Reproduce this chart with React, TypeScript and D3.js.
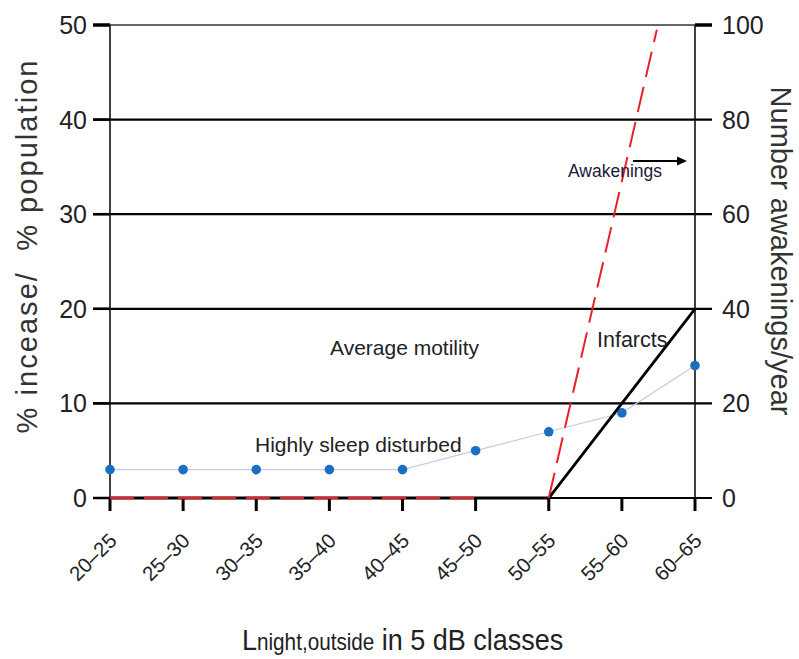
import React from "react";
import { scalePoint, scaleLinear, line } from "d3";

// L_night,outside classes (dB)
const classes = ["20–25", "25–30", "30–35", "35–40", "40–45", "45–50", "50–55", "55–60", "60–65"];
// left axis, % of population
const sleepDisturbed = [3, 3, 3, 3, 3, 5, 7, 9, 14];
const infarcts = [0, 0, 0, 0, 0, 0, 0, 10, 20];
// right axis, awakenings per year (goes past the top, clipped)
const awakenings = [0, 0, 0, 0, 0, 0, 0, 67, 134];
const leftTicks = [0, 10, 20, 30, 40, 50];
const rightTicks = [0, 20, 40, 60, 80, 100];

const sans = "'Liberation Sans', Arial, sans-serif";
const ink = "#222";

const App = () => {
  const width = 799;
  const height = 659;
  const margin = { top: 25, right: 104, bottom: 161, left: 110 };
  const innerWidth = width - margin.left - margin.right;
  const innerHeight = height - margin.top - margin.bottom;

  const x = scalePoint<string>().domain(classes).range([0, innerWidth]);
  const yL = scaleLinear().domain([0, 50]).range([innerHeight, 0]);
  const yR = scaleLinear().domain([0, 100]).range([innerHeight, 0]);

  const lineL = line<number>()
    .x((_, i) => x(classes[i]) as number)
    .y((d) => yL(d));

  // red dashes: flat part up to 45–50, then the climb from 50–55
  const flatIdx = [0, 1, 2, 3, 4, 5];
  const riseIdx = [6, 7, 8];
  const redLine = line<number>()
    .x((i) => x(classes[i]) as number)
    .y((i) => yR(awakenings[i]));

  return (
    <svg width={width} height={height} style={{ position: "absolute", left: 0, top: 0, background: "#fff" }}>
      <defs>
        <clipPath id="plotclip">
          <rect x={0} y={yR(99)} width={innerWidth} height={innerHeight - yR(99) + 2} />
        </clipPath>
        <marker id="arrow" viewBox="0 0 10 10" refX="8" refY="5" markerWidth="6" markerHeight="5" orient="auto">
          <path d="M0,0.5 L10,5 L0,9.5 z" fill="#000" />
        </marker>
      </defs>
      <g transform={`translate(${margin.left},${margin.top})`} fontFamily={sans}>
        {/* horizontal grid lines */}
        {leftTicks.map((t) => (
          <line
            key={t}
            x1={-17}
            x2={innerWidth + 17}
            y1={yL(t)}
            y2={yL(t)}
            stroke={t === 50 ? "#333" : "#000"}
            strokeWidth={t === 50 ? 1.6 : 2.2}
          />
        ))}
        {/* tick stubs outside the plot */}
        {leftTicks.map((t) => (
          <line key={"lt" + t} x1={-17} x2={0} y1={yL(t)} y2={yL(t)} stroke="#000" strokeWidth={t === 50 ? 3.5 : 2.5} />
        ))}
        <line x1={innerWidth} x2={innerWidth + 17} y1={yR(100)} y2={yR(100)} stroke="#000" strokeWidth={3.5} />
        {/* vertical axes */}
        <line x1={0} x2={0} y1={0} y2={innerHeight + 12} stroke="#111" strokeWidth={1.6} />
        <line x1={innerWidth} x2={innerWidth} y1={0} y2={innerHeight + 12} stroke="#111" strokeWidth={1.6} />
        {/* x ticks */}
        {classes.map((c) => (
          <line key={c} x1={x(c)} x2={x(c)} y1={innerHeight} y2={innerHeight + 13} stroke="#000" strokeWidth={3} />
        ))}

        {/* highly sleep disturbed */}
        <path d={lineL(sleepDisturbed) ?? ""} fill="none" stroke="#c9c9e6" strokeWidth={1.2} />
        {sleepDisturbed.map((d, i) => (
          <circle key={i} cx={x(classes[i])} cy={yL(d)} r={4.8} fill="#1b6fc0" />
        ))}

        {/* infarcts */}
        <path d={lineL(infarcts) ?? ""} fill="none" stroke="#000" strokeWidth={2.8} />

        {/* awakenings */}
        <path d={redLine(flatIdx) ?? ""} fill="none" stroke="#e8202a" strokeWidth={2.4} strokeDasharray="24 10" />
        <path
          d={redLine(riseIdx) ?? ""}
          fill="none"
          stroke="#e8202a"
          strokeWidth={2}
          strokeDasharray="26 10"
          clipPath="url(#plotclip)"
        />

        {/* left tick labels */}
        {leftTicks.map((t) => (
          <text key={"ll" + t} x={-23} y={yL(t)} dy="0.36em" textAnchor="end" fontSize={25} fill={ink}>
            {t}
          </text>
        ))}
        {/* right tick labels */}
        {rightTicks.map((t) => (
          <text key={"rl" + t} x={innerWidth + 27} y={yR(t)} dy="0.36em" textAnchor="start" fontSize={25} fill={ink}>
            {t}
          </text>
        ))}
        {/* x tick labels */}
        {classes.map((c) => (
          <text
            key={"xl" + c}
            transform={`translate(${(x(c) as number) + 8},${innerHeight + 44}) rotate(-45)`}
            textAnchor="end"
            fontSize={20.5}
            fill={ink}
          >
            {c}
          </text>
        ))}

        {/* annotations */}
        <text x={220} y={330} fontSize={21} fill={ink}>Average motility</text>
        <text x={145} y={427} fontSize={21} fill={ink}>Highly sleep disturbed</text>
        <text x={487} y={322} fontSize={21.5} fill={ink}>Infarcts</text>
        <text x={458} y={152} fontSize={17.5} fill="#1a1a3a">Awakenings</text>
        <line x1={523} x2={575} y1={136} y2={136} stroke="#000" strokeWidth={2} markerEnd="url(#arrow)" />
      </g>

      {/* axis titles */}
      <text
        transform="translate(37,247) rotate(-90)"
        textAnchor="middle"
        fontSize={29}
        fill="#333"
        fontFamily={sans}
        textLength={373}
        lengthAdjust="spacing"
        style={{ whiteSpace: "pre" }}
      >
        {"% incease/  % population"}
      </text>
      <text transform="translate(771,251) rotate(90)" textAnchor="middle" fontSize={29} fill="#333" fontFamily={sans}>
        Number awakenings/year
      </text>
      <g transform="translate(242,650) scale(0.9,1)">
        <text x={0} y={0} fill={ink} fontFamily={sans}>
          <tspan fontSize={30}>L</tspan>
          <tspan fontSize={23}>night,outside</tspan>
          <tspan fontSize={30}> in 5 dB classes</tspan>
        </text>
      </g>
    </svg>
  );
};

export default App;
